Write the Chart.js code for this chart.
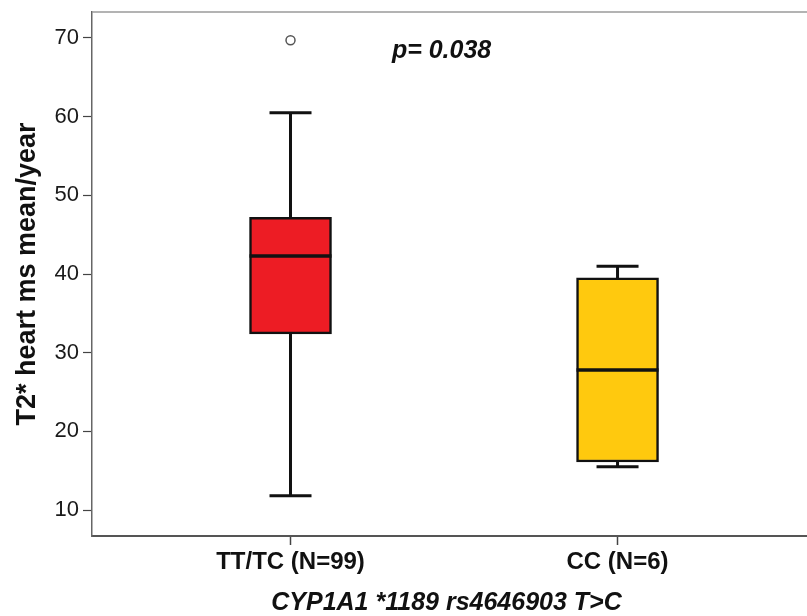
<!DOCTYPE html>
<html>
<head>
<meta charset="utf-8">
<script src="https://cdn.jsdelivr.net/npm/chart.js@4.4.1/dist/chart.umd.min.js"></script>
<style>
  html, body { margin: 0; padding: 0; background: #fff; }
  #wrap { width: 807px; height: 616px; }
</style>
</head>
<body>
<div id="wrap"><canvas id="myChart" width="807" height="616"></canvas></div>
<script>
// groups on the x axis (positions 0 and 1 on a linear scale)
const groups = ["TT/TC (N=99)", "CC (N=6)"];
const boxColors = ["#ED1C24", "#FFC90E"];

// box plot numbers
const whiskerLow  = [11.8, 15.5];
const q1          = [32.4, 16.1];
const median      = [42.3, 27.8];
const q3          = [47.2, 39.5];
const whiskerHigh = [60.5, 41.0];
const outliers    = [[69.7], []];

const yTicks = [10, 20, 30, 40, 50, 60, 70];
const pText = "p= 0.038";

const FONT = "'Liberation Sans', Arial, sans-serif";

// boxes as floating bars
var boxData = [];
for (var i = 0; i < groups.length; i++) {
    boxData.push({ x: i, y: [q1[i], q3[i]] });
}
// outliers as points
var outData = [];
for (var i = 0; i < groups.length; i++) {
    for (var k = 0; k < outliers[i].length; k++) {
        outData.push({ x: i, y: outliers[i][k] });
    }
}

// no extra room for labels at the ends, the frame is fixed by layout padding
function noPad(scale) {
    scale.paddingTop = 0;
    scale.paddingBottom = 0;
    scale.paddingLeft = 0;
    scale.paddingRight = 0;
}

// whiskers, caps, medians, frame lines and the p value
const boxExtras = {
    id: "boxExtras",
    afterDatasetsDraw(chart) {
        const ctx = chart.ctx;
        const xs = chart.scales.x;
        const ys = chart.scales.y;
        const area = chart.chartArea;
        const boxHalf = 41;
        const capHalf = 21;

        ctx.save();
        ctx.strokeStyle = "#111";
        ctx.lineCap = "butt";
        for (var i = 0; i < groups.length; i++) {
            var cx = xs.getPixelForValue(i);
            // whisker stems
            ctx.lineWidth = 3;
            ctx.beginPath();
            ctx.moveTo(cx, ys.getPixelForValue(q3[i]));
            ctx.lineTo(cx, ys.getPixelForValue(whiskerHigh[i]));
            ctx.moveTo(cx, ys.getPixelForValue(q1[i]));
            ctx.lineTo(cx, ys.getPixelForValue(whiskerLow[i]));
            ctx.stroke();
            // caps
            ctx.beginPath();
            ctx.moveTo(cx - capHalf, ys.getPixelForValue(whiskerHigh[i]));
            ctx.lineTo(cx + capHalf, ys.getPixelForValue(whiskerHigh[i]));
            ctx.moveTo(cx - capHalf, ys.getPixelForValue(whiskerLow[i]));
            ctx.lineTo(cx + capHalf, ys.getPixelForValue(whiskerLow[i]));
            ctx.stroke();
            // median
            ctx.lineWidth = 3.5;
            ctx.beginPath();
            ctx.moveTo(cx - boxHalf, ys.getPixelForValue(median[i]));
            ctx.lineTo(cx + boxHalf, ys.getPixelForValue(median[i]));
            ctx.stroke();
        }

        // thin grey top line of the frame, runs off the right edge
        ctx.strokeStyle = "#9a9a9a";
        ctx.lineWidth = 1.5;
        ctx.beginPath();
        ctx.moveTo(area.left, area.top);
        ctx.lineTo(chart.width, area.top);
        ctx.stroke();
        // bottom line also runs to the edge
        ctx.strokeStyle = "#555";
        ctx.lineWidth = 2;
        ctx.beginPath();
        ctx.moveTo(area.right - 2, area.bottom);
        ctx.lineTo(chart.width, area.bottom);
        ctx.stroke();

        // p value
        ctx.fillStyle = "#111";
        ctx.font = "italic bold 25px " + FONT;
        ctx.textAlign = "left";
        ctx.textBaseline = "middle";
        ctx.fillText(pText, xs.getPixelForValue(0.31), ys.getPixelForValue(68.3));
        ctx.restore();
    }
};

new Chart("myChart", {
    type: "bar",
    data: {
        datasets: [
            {
                type: "bar",
                data: boxData,
                backgroundColor: boxColors,
                borderColor: "#111",
                borderWidth: 2.5,
                borderSkipped: false,
                barThickness: 82,
                order: 2
            },
            {
                type: "scatter",
                data: outData,
                pointStyle: "circle",
                pointRadius: 4.5,
                pointBackgroundColor: "#fff",
                pointBorderColor: "#555",
                pointBorderWidth: 1.5,
                order: 1
            }
        ]
    },
    options: {
        responsive: false,
        animation: false,
        layout: { padding: { top: 12, left: 0, right: 0, bottom: 0 } },
        plugins: {
            legend: { display: false },
            tooltip: { enabled: false }
        },
        scales: {
            x: {
                type: "linear",
                offset: false,
                min: -0.607,
                max: 1.561,
                afterBuildTicks: function (scale) {
                    scale.ticks = groups.map(function (g, i) { return { value: i }; });
                },
                afterFit: function (scale) { scale.height = 80; noPad(scale); },
                ticks: {
                    callback: function (v) { return groups[v]; },
                    color: "#111",
                    font: { family: FONT, size: 24, weight: "bold" },
                    padding: 3,
                    maxRotation: 0
                },
                grid: { offset: false, drawOnChartArea: false, tickLength: 9, tickColor: "#444", tickWidth: 1.5 },
                border: { color: "#555", width: 2 },
                title: {
                    display: true,
                    text: "CYP1A1 *1189 rs4646903 T>C",
                    color: "#111",
                    font: { family: FONT, size: 25, weight: "bold", style: "italic", lineHeight: 1 },
                    padding: { top: 0, bottom: 0 }
                }
            },
            y: {
                min: 6.7,
                max: 73.3,
                afterBuildTicks: function (scale) {
                    scale.ticks = yTicks.map(function (v) { return { value: v }; });
                },
                afterFit: function (scale) { scale.width = 92; noPad(scale); },
                ticks: {
                    color: "#1a1a1a",
                    font: { family: FONT, size: 22 },
                    padding: 4
                },
                grid: { drawOnChartArea: false, tickLength: 9, tickColor: "#444", tickWidth: 1.2 },
                border: { color: "#666", width: 1.5 },
                title: {
                    display: true,
                    text: "T2* heart ms mean/year",
                    color: "#111",
                    font: { family: FONT, size: 27, weight: "bold", lineHeight: 1.2 },
                    padding: { top: 11, bottom: 0 }
                }
            }
        }
    },
    plugins: [boxExtras]
});
</script>
</body>
</html>
